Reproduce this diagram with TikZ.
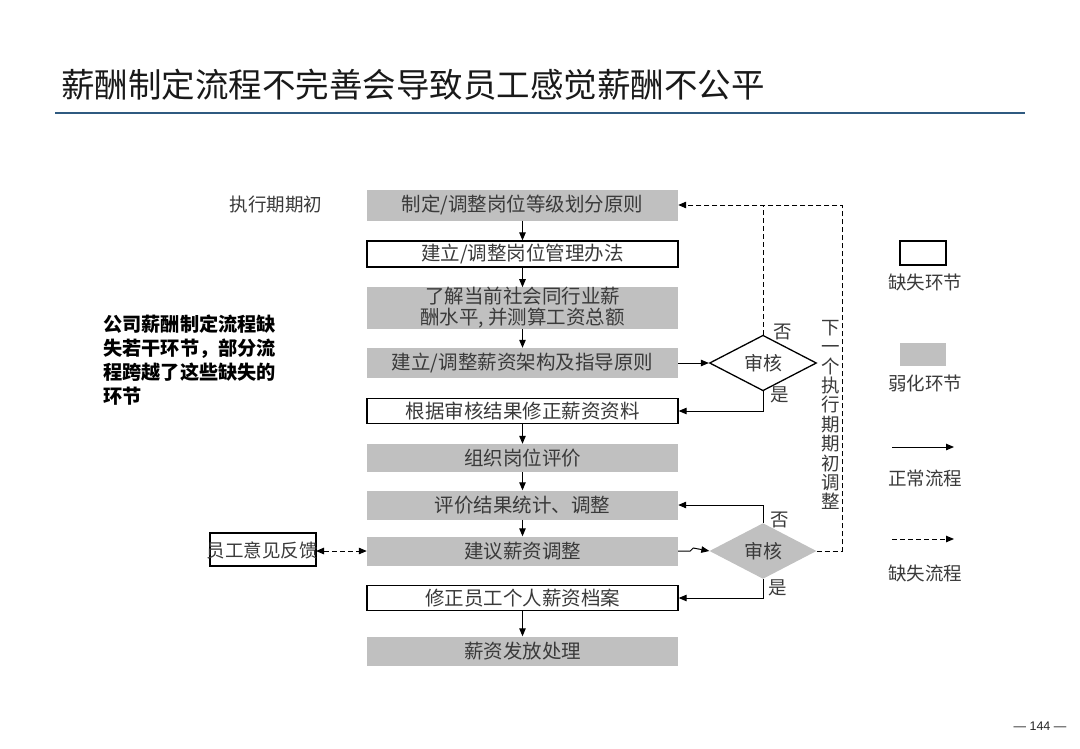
\documentclass[tikz,border=0pt]{standalone}
\usepackage{fontspec}
\setmainfont{Liberation Serif}
\newfontfamily\cjk{Noto Sans CJK SC}
\newfontfamily\pgsans{Liberation Sans}
\usetikzlibrary{arrows.meta,shapes.geometric}
\definecolor{boxgray}{HTML}{C0C0C0}
\definecolor{txt}{HTML}{3A3A3A}
\definecolor{rule}{HTML}{2F5A80}
\begin{document}
\begin{tikzpicture}[x=1pt,y=-1pt,
  base/.style={minimum width=311pt, inner sep=0pt, align=center, text=txt,
    font=\cjk\fontsize{19.5}{21}\selectfont},
  gbox/.style={base, fill=boxgray},
  wbox/.style={base, draw=black, line width=1.3pt, fill=white},
  arr/.style={-{Triangle[length=8pt,width=6.5pt]}, line width=1pt, draw=black},
  dline/.style={line width=1pt, draw=black, dash pattern=on 5pt off 3pt},
  darr/.style={dline, -{Triangle[length=8pt,width=6.5pt]}},
  lbl/.style={text=txt, font=\cjk\fontsize{18.5}{20}\selectfont, inner sep=0pt},
  dia/.style={diamond, minimum width=107pt, minimum height=32pt, inner sep=0pt,
    text=txt, font=\cjk\fontsize{19}{20}\selectfont},
]
\useasboundingbox (0,0) rectangle (1080,748);
\fill[white] (0,0) rectangle (1080,748);

% title
\node[anchor=west, inner sep=0pt, text=black!90, font=\cjk\fontsize{33.5}{36}\selectfont] (title) at (61,85) {薪酬制定流程不完善会导致员工感觉薪酬不公平};
\draw[rule, line width=1.8pt] (55,113) coordinate (r1) -- (1025,113) coordinate (r2);

% left labels
\node[lbl, anchor=center] (period) at (276,204) {执行期期初};
\node[anchor=north west, inner sep=0pt, align=left, text=black,
  font=\cjk\bfseries\fontsize{19.2}{24}\selectfont] (note) at (103,315)
  {公司薪酬制定流程缺\\失若干环节，部分流\\程跨越了这些缺失的\\环节};

% main boxes
\node[gbox, minimum height=31pt] (b1) at (522.5,205) {制定/调整岗位等级划分原则};
\node[wbox, minimum height=26pt] (b2) at (522.5,254) {建立/调整岗位管理办法};
\node[gbox, minimum height=40pt] (b3) at (522.5,308) {了解当前社会同行业薪\\酬水平, 并测算工资总额};
\node[gbox, minimum height=30pt] (b4) at (522.5,363) {建立/调整薪资架构及指导原则};
\node[wbox, minimum height=25pt] (b5) at (522.5,411) {根据审核结果修正薪资资料};
\node[gbox, minimum height=28pt] (b6) at (522.5,458) {组织岗位评价};
\node[gbox, minimum height=29pt] (b7) at (522.5,505) {评价结果统计、调整};
\node[gbox, minimum height=29pt] (b8) at (522.5,551) {建议薪资调整};
\node[wbox, minimum height=25pt] (b9) at (522.5,598) {修正员工个人薪资档案};
\node[gbox, minimum height=29pt] (b10) at (522.5,651) {薪资发放处理};

% feedback box
\draw[black, line width=1.3pt] (210,533) rectangle (316,566);
\node[lbl, font=\cjk\fontsize{18.5}{20}\selectfont] (fbt) at (262,550) {员工意见反馈};
\coordinate (fb) at (316,551);

% diamonds
\node[dia, draw=black, line width=1.3pt, fill=white] (d1) at (763,363) {审核};
\node[dia, fill=boxgray] (d2) at (763,551) {审核};

% vertical arrows
\draw[arr] (b1) -- (b2);
\draw[arr] (b2) -- (b3);
\draw[arr] (b3) -- (b4);
\draw[arr] (b5) -- (b6);
\draw[arr] (b6) -- (b7);
\draw[arr] (b7) -- (b8);
\draw[arr] (b9) -- (b10);

% review 1
\draw[arr] (b4.east) -- (d1.west);
\draw[arr] (d1.south) |- (b5.east);
\draw[dline] (d1.north) -- (d1.north |- b1.east);
\node[lbl] (no1) at (783,332) {否};
\node[lbl] (yes1) at (780,395) {是};

% review 2
\draw[arr] (b8.east) -- ++(12,0) -- ++(3,-3) -- (d2.west);
\draw[arr] (d2.north) |- (b7.east);
\draw[arr] (d2.south) |- (b9.east);
\node[lbl] (no2) at (780,520) {否};
\node[lbl] (yes2) at (778,588) {是};

% next period loop
\coordinate (tr) at (842,205);
\draw[darr] (d2.east) -| (tr) -- (b1.east);
\node[lbl, align=center, font=\cjk\fontsize{18.5}{19.4}\selectfont] (vt) at (831,415)
  {下\\一\\个\\执\\行\\期\\期\\初\\调\\整};

% feedback
\draw[darr, {Triangle[length=8pt,width=6.5pt]}-{Triangle[length=8pt,width=6.5pt]}] (fb) -- (b8.west);

% legend
\draw[black, line width=1.3pt] (900,241) rectangle (946,265);
\node[lbl] (lg1) at (925,282) {缺失环节};
\fill[boxgray] (900,343) rectangle (946,366);
\node[lbl] (lg2) at (925,383) {弱化环节};
\coordinate (la1) at (892,447);
\coordinate (la2) at (954,447);
\draw[arr] (la1) -- (la2);
\node[lbl] (lg3) at (925,478) {正常流程};
\coordinate (lb1) at (892,539);
\coordinate (lb2) at (954,539);
\draw[darr] (lb1) -- (lb2);
\node[lbl] (lg4) at (925,573) {缺失流程};

% page number
\node[inner sep=0pt, text=black!85, font=\pgsans\fontsize{12.5}{14}\selectfont] (pg) at (1040,726) {— 144 —};
\end{tikzpicture}
\end{document}
